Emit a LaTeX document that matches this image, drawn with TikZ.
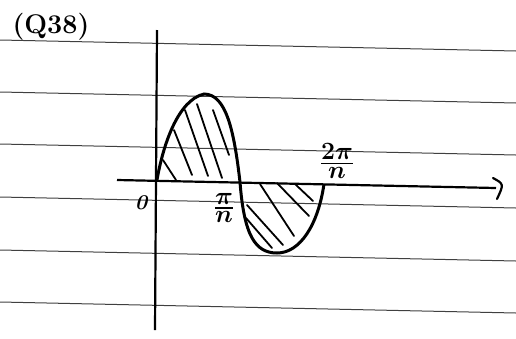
\documentclass[tikz,border=0pt]{standalone}
\usepackage{amsmath}
\usepackage{bm}
\begin{document}
\begin{tikzpicture}[x=1pt,y=-1pt,
  rule/.style={black!75,line width=1pt},
  axis/.style={black,line width=2.2pt},
  curve/.style={black,line width=3pt},
  hatch/.style={black,line width=1.8pt,line cap=round},
  lbl/.style={inner sep=0pt}]
\useasboundingbox (0,0) rectangle (516,338);
% ruled paper lines
\foreach \y in {40,92,144,197,250,302} \draw[rule] (0,\y) -- (516,\y+11);
% axes
\coordinate (xs) at (117,180);
\coordinate (xe) at (496,188);
\coordinate (yt) at (157,30);
\coordinate (yb) at (155,330);
\coordinate (tipa) at (493,178);
\coordinate (tipb) at (497,199);
\draw[axis] (xs) -- (xe);
\draw[axis] (yt) -- (yb);
\draw[axis,line cap=round] (tipa) .. controls (504,184) .. (tipb);
% hatching
\foreach \a/\b/\c/\d in {163/160/176/180, 174/130/192/175, 185/110/208/176, 197/104/222/178, 213/110/229/155,
  247/205/283/245, 246/218/272/248, 260/184/294/236, 277/183/309/216, 295/184/313/201}
  \draw[hatch] (\a,\b) -- (\c,\d);
% curve
\draw[curve] (157,180) .. controls (163,145) and (178,100) .. (204,94)
  .. controls (226,94) and (234,130) .. (240,182)
  .. controls (244,235) and (255,253) .. (277,253)
  .. controls (300,253) and (318,225) .. (324,184);
% labels
\node[lbl] (lq) at (51,27) {\fontsize{27}{27}\selectfont\bfseries (Q38)};
\node[lbl] (lo) at (141,203) {\fontsize{21}{21}\selectfont\bfseries\itshape 0};
\node[lbl] (lpi) at (224,208) {\fontsize{35}{35}\selectfont $\genfrac{}{}{1.4pt}{1}{\bm{\pi}}{\bm{n}}$};
\node[lbl] (ltwopi) at (337,161) {\fontsize{35}{35}\selectfont $\genfrac{}{}{1.4pt}{1}{\bm{2\pi}}{\bm{n}}$};
\end{tikzpicture}
\end{document}
